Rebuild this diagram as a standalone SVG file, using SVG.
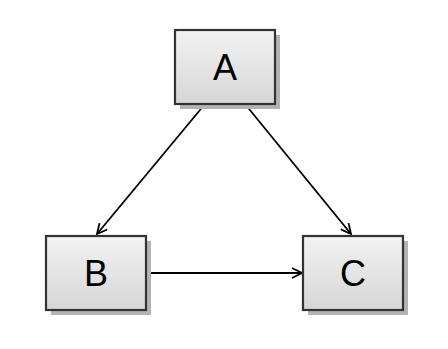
<svg xmlns="http://www.w3.org/2000/svg" width="448" height="349" viewBox="0 0 448 349">
<defs>
<linearGradient id="g" x1="0" y1="0" x2="0" y2="1">
<stop offset="0" stop-color="#f2f2f2"/>
<stop offset="1" stop-color="#d6d6d6"/>
</linearGradient>
<marker id="arr" viewBox="0 0 12 12" refX="11" refY="6" markerWidth="12" markerHeight="12" markerUnits="userSpaceOnUse" orient="auto">
<path d="M1,1 L11,6 L1,11" fill="none" stroke="#000" stroke-width="1.8"/>
</marker>
<style>
.sh{fill:#b3b3b3}
.bx{fill:url(#g);stroke:#333;stroke-width:2.2}
.lb{font-family:"Liberation Sans",Arial,sans-serif;font-size:36px;text-anchor:middle;fill:#000}
.ed{stroke:#000;stroke-width:1.8;fill:none;marker-end:url(#arr)}
</style>
</defs>
<rect width="448" height="349" fill="#fff"/>
<g id="connectors">
<line class="ed" x1="205" y1="104" x2="97" y2="234"/>
<line class="ed" x1="245" y1="104" x2="351" y2="234"/>
<line class="ed" x1="146" y1="273" x2="302" y2="273"/>
</g>
<g id="A">
<rect class="sh" x="180" y="35" width="100" height="74"/>
<rect class="bx" x="175" y="30" width="100" height="74"/>
<text class="lb" x="225" y="80">A</text>
</g>
<g id="B">
<rect class="sh" x="51" y="241" width="100" height="74"/>
<rect class="bx" x="46" y="236" width="100" height="74"/>
<text class="lb" x="96" y="286">B</text>
</g>
<g id="C">
<rect class="sh" x="308" y="241" width="100" height="74"/>
<rect class="bx" x="303" y="236" width="100" height="74"/>
<text class="lb" x="353" y="286">C</text>
</g>
</svg>
